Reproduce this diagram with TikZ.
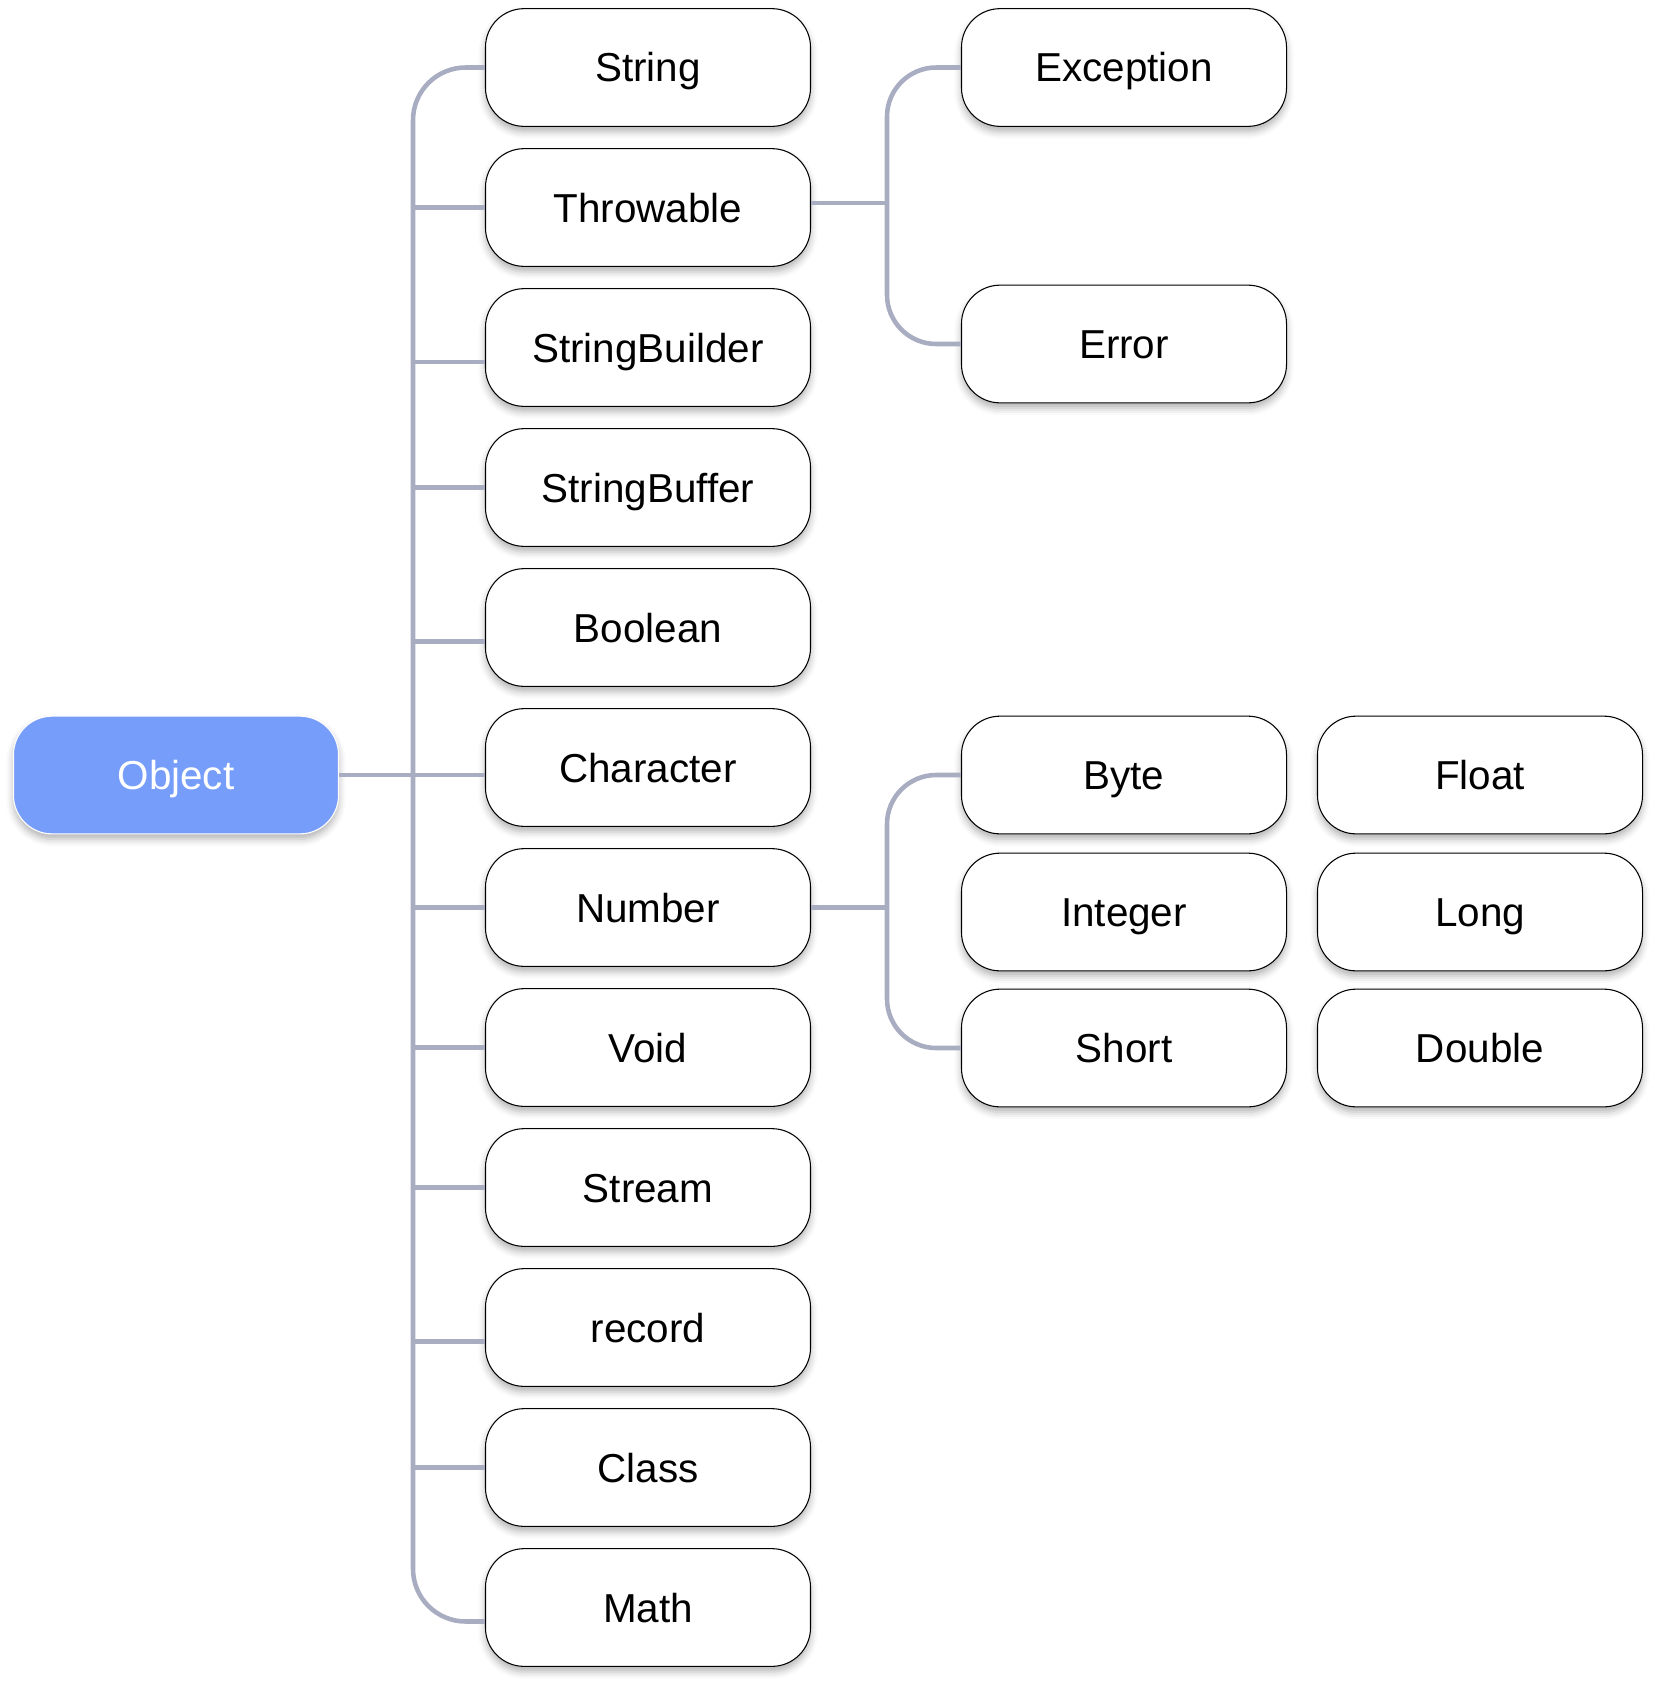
\documentclass[tikz,border=0pt]{standalone}
\usepackage{fontspec}
\setmainfont{Liberation Sans}
\usetikzlibrary{calc,shadows.blur}

\definecolor{linkgray}{HTML}{A9ADC2}
\definecolor{rootblue}{HTML}{779DFB}

\tikzset{
  cls/.style={draw=black, line width=0.6pt, fill=white, rounded corners=22pt,
    minimum width=185pt, minimum height=67pt, text height=16.5pt, text depth=0pt,
    font=\fontsize{23}{28}\selectfont,
    blur shadow={shadow xshift=0pt, shadow yshift=-3pt, shadow blur radius=4pt, shadow opacity=30}},
  root/.style={cls, draw=white, fill=rootblue, text=white},
  link/.style={draw=linkgray, line width=2.6pt},
}

\begin{document}
\begin{tikzpicture}[x=0.02cm, y=-0.02cm]
    \useasboundingbox (0,0) rectangle (1655,1684);
    \node[root] (Object) at (176,775) {Object};
    % subclasses of Object
    \foreach \name [count=\i from 0] in {String,Throwable,StringBuilder,StringBuffer,Boolean,Character,Number,Void,Stream,record,Class,Math}
        \node[cls] (\name) at (648,67.5+140*\i) {\name};
    % Throwable and Number
    \node[cls] (Exception) at (1124,67.5) {Exception};
    \node[cls] (Error) at (1124,344) {Error};
    \node[cls] (Byte) at (1124,775) {Byte};
    \node[cls] (Integer) at (1124,912) {Integer};
    \node[cls] (Short) at (1124,1048) {Short};
    \node[cls] (Float) at (1480,775) {Float};
    \node[cls] (Long) at (1480,912) {Long};
    \node[cls] (Double) at (1480,1048) {Double};

    \coordinate (hub) at (413,775);
    \coordinate (tbar) at (887,203);
    \coordinate (nbar) at (887,908);

    \draw[link, rounded corners=30pt] (String.west) -| (hub) |- ($(Math.west)+(0,14)$);
    \draw[link] (Object.east) -- (Object.east -| Character.west);
    \foreach \name/\dy in {Throwable/0, StringBuilder/14.5, StringBuffer/0, Boolean/14, Number/0, Void/0, Stream/0, record/14, Class/0}
        \draw[link] ($(\name.west)+(0,\dy)$) -- ($(\name.west -| hub)+(0,\dy)$);

    \draw[link] (Throwable.east |- tbar) -- (tbar);
    \draw[link, rounded corners=28pt] (Exception.west) -| (tbar) |- (Error.west);
    \draw[link] (Number.east) -- (Number.east -| nbar);
    \draw[link, rounded corners=28pt] (Byte.west) -| (nbar) |- (Short.west);
\end{tikzpicture}
\end{document}
